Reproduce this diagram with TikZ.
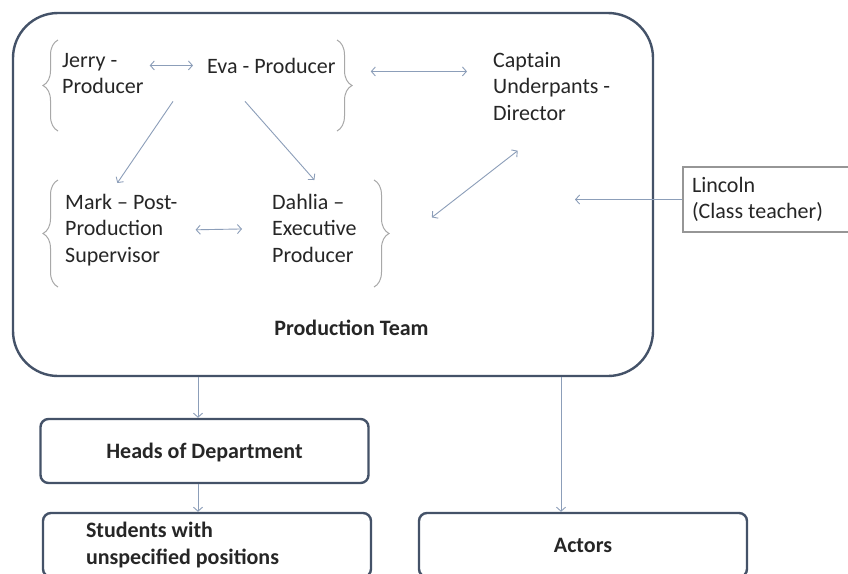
\documentclass[tikz,border=0pt]{standalone}
\usepackage{fontspec}
\setmainfont{Carlito}
\usetikzlibrary{arrows.meta,decorations.pathreplacing,calc}
\definecolor{framec}{RGB}{68,82,104}
\definecolor{arrowc}{RGB}{140,158,185}
\definecolor{bracec}{RGB}{168,168,168}
\definecolor{ink}{RGB}{38,38,38}
\definecolor{lincc}{RGB}{150,150,150}
\begin{document}
\begin{tikzpicture}[x=1pt,y=-1pt,
  txt/.style={inner sep=0pt, align=flush left, text=ink, font=\fontsize{22}{26.5}\selectfont},
  boldtxt/.style={inner sep=0pt, text=ink, font=\fontsize{22}{26.5}\selectfont\bfseries, text height=15pt, text depth=0pt},
  teambox/.style={draw=framec, line width=2.4pt, rounded corners=45pt, minimum width=640pt, minimum height=363pt, inner sep=0pt},
  boxnode/.style={draw=framec, line width=2.4pt, rounded corners=8pt, minimum width=328pt, minimum height=64pt, inner sep=0pt, text=ink, font=\fontsize{22}{26.5}\selectfont\bfseries},
  lincbox/.style={draw=lincc, line width=1.2pt, minimum height=65pt, text width=216pt, inner xsep=9pt, inner ysep=0pt, align=flush left, text=ink, font=\fontsize{22}{26.5}\selectfont},
  arr/.style={draw=arrowc, line width=0.9pt, -{Straight Barb[length=4pt,width=9pt]}},
  dbl/.style={draw=arrowc, line width=0.9pt, {Straight Barb[length=4pt,width=9pt]}-{Straight Barb[length=4pt,width=9pt]}},
  bracestyle/.style={draw=bracec, line width=1pt, decorate, decoration={brace, amplitude=15pt}}
]
\useasboundingbox (0,0) rectangle (848,573);
\fill[white] (0,0) rectangle (848,573);
\clip (0,0) rectangle (848,573);

% main production team frame
\node[teambox] (team) at (333,194.5) {};
\node[boldtxt, anchor=base] (ptlabel) at (351.5,335) {Production Team};

% people
\node[txt, anchor=north west] (jerry) at (62,53) {Jerry -\\Producer};
\node[txt, anchor=base west] (eva) at (207,73) {Eva - Producer};
\node[txt, anchor=north west] (captain) at (493,52) {Captain\\Underpants -\\Director};
\node[txt, anchor=north west] (mark) at (65,194) {Mark – Post-\\Production\\Supervisor};
\node[txt, anchor=north west] (dahlia) at (272,194) {Dahlia –\\Executive\\Producer};
\node[lincbox] (lincoln) at (800,199.5) {Lincoln\\(Class teacher)};

% braces
\draw[bracestyle] (58,131) -- (58,40);
\draw[bracestyle] (337,40) -- (337,131);
\draw[bracestyle] (58,287) -- (58,180);
\draw[bracestyle] (374,180) -- (374,287);

% lower boxes
\node[boxnode, text height=15pt, text depth=0pt] (hod) at (204.5,451) {Heads of Department};
\node[boxnode, minimum width=0pt, text width=242pt, inner xsep=43pt, align=flush left] (students) at (207,545) {Students with\\unspecified positions};
\node[boxnode, text height=14pt, text depth=0pt] (actors) at (583,545) {Actors};

% helper coordinates for vertical connectors
\coordinate (hx) at (198,0);
\coordinate (ax) at (561,0);
\coordinate (linctip) at (575,0);

% connectors inside the team
\draw[dbl, shorten <=6pt, shorten >=14pt] (eva.west -| jerry.east) -- (eva.west);
\draw[dbl] ($(eva.east)+(35,6)$) -- ($(eva.east -| captain.west)+(-26,6)$);
\draw[arr] ($(eva.south west)+(-34,28)$) -- ($(mark.north)+(-4,-11)$);
\draw[arr] ($(eva.south west)+(38,28)$) -- ($(dahlia.north)+(0,-14)$);
\draw[dbl, shorten <=18pt, shorten >=30pt] (mark.east) -- (dahlia.west);
\draw[dbl] ($(captain.south)+(-34,30)$) -- ($(dahlia.east)+(75,-11)$);
\draw[arr] (lincoln.west) -- (lincoln.west -| linctip);

% connectors below
\draw[arr] (team.south -| hx) -- (hod.north -| hx);
\draw[arr] (hod.south -| hx) -- (students.north -| hx);
\draw[arr] (team.south -| ax) -- (actors.north -| ax);
\end{tikzpicture}
\end{document}
